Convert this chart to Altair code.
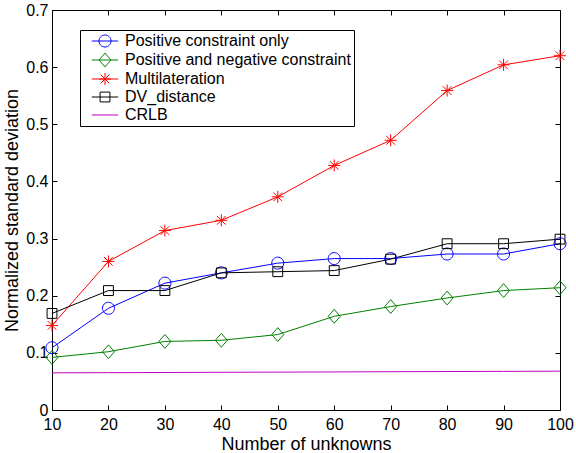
import altair as alt
import pandas as pd

x_vals = [10, 20, 30, 40, 50, 60, 70, 80, 90, 100]
series_names = ["Positive constraint only", "Positive and negative constraint",
                "Multilateration", "DV_distance", "CRLB"]
pos_only = [0.109, 0.178, 0.222, 0.240, 0.257, 0.265, 0.265, 0.273, 0.273, 0.291]
pos_neg = [0.092, 0.102, 0.120, 0.122, 0.132, 0.164, 0.181, 0.196, 0.209, 0.214]
multilat = [0.148, 0.260, 0.314, 0.332, 0.373, 0.428, 0.472, 0.559, 0.604, 0.620]
dv_distance = [0.169, 0.209, 0.209, 0.240, 0.242, 0.244, 0.264, 0.291, 0.291, 0.299]
crlb = [0.065, 0.0653, 0.0656, 0.066, 0.0663, 0.0666, 0.067, 0.0673, 0.0676, 0.068]

colors = ["#0000ff", "#008000", "#ff0000", "#000000", "#bf00bf"]

rows = []
for name, vals in zip(series_names, [pos_only, pos_neg, multilat, dv_distance, crlb]):
    for xv, yv in zip(x_vals, vals):
        rows.append({"series": name, "x": xv, "y": yv})
df = pd.DataFrame(rows)

circle = "M1,0A1,1,0,1,1,-1,0A1,1,0,1,1,1,0Z"
diamond = "M0,-1.15L1,0L0,1.15L-1,0Z"
star = "M-1,0L1,0M0,-1L0,1M-0.72,-0.72L0.72,0.72M-0.72,0.72L0.72,-0.72"
square = "M-0.82,-0.82L0.82,-0.82L0.82,0.82L-0.82,0.82Z"
seg = "M-2.2,0L2.2,0"

marker_shapes = [circle, diamond, star, square, seg]
legend_shapes = [circle + seg, diamond + seg, star + seg, square + seg, seg]

FONT = "Liberation Sans"

xenc = alt.X("x:Q", scale=alt.Scale(domain=[10, 100], nice=False),
             axis=alt.Axis(values=x_vals, title="Number of unknowns", grid=True,
                           gridDash=[5, 390, 5, 1000], gridColor="black", gridOpacity=1,
                           gridWidth=1, ticks=False, domain=False, labelPadding=6,
                           labelFlush=False, labelOverlap=False,
                           titlePadding=3, labelFont=FONT, titleFont=FONT,
                           labelFontSize=16, titleFontSize=18, labelColor="black",
                           titleColor="black", titleFontWeight="normal"))
yenc = alt.Y("y:Q", scale=alt.Scale(domain=[0, 0.7], nice=False),
             axis=alt.Axis(values=[0, 0.1, 0.2, 0.3, 0.4, 0.5, 0.6, 0.7], format=".1~f",
                           title="Normalized standard deviation", grid=True,
                           gridDash=[5, 498, 5, 1000], gridColor="black", gridOpacity=1,
                           gridWidth=1, ticks=False, domain=False, labelPadding=4,
                           labelFlush=False, labelOverlap=False,
                           titlePadding=4, labelFont=FONT, titleFont=FONT,
                           labelFontSize=16, titleFontSize=18, labelColor="black",
                           titleColor="black", titleFontWeight="normal"))

base = alt.Chart(df)

lines = base.mark_line(strokeWidth=1).encode(
    x=xenc, y=yenc,
    color=alt.Color("series:N", scale=alt.Scale(domain=series_names, range=colors), legend=None),
)

points = base.transform_filter(alt.datum.series != "CRLB").mark_point(
    filled=False, size=144, strokeWidth=1, opacity=1
).encode(
    x=xenc, y=yenc,
    color=alt.Color("series:N", scale=alt.Scale(domain=series_names, range=colors), legend=None),
    shape=alt.Shape("series:N", scale=alt.Scale(domain=series_names, range=marker_shapes), legend=None),
)

leg = alt.Legend(title=None, orient="none", legendX=28, legendY=20,
                 strokeColor="black", fillColor="white", padding=3,
                 symbolOffset=14, labelOffset=12, labelFontSize=16,
                 labelFont=FONT, labelColor="black",
                 rowPadding=2, symbolStrokeWidth=1, symbolSize=144,
                 symbolOpacity=1, labelLimit=400)

legend_layer = base.transform_filter(alt.datum.x < 0).mark_point(
    filled=False, size=144, strokeWidth=1
).encode(
    x=xenc, y=yenc,
    color=alt.Color("series:N", scale=alt.Scale(domain=series_names, range=colors), legend=leg),
    shape=alt.Shape("series:N", scale=alt.Scale(domain=series_names, range=legend_shapes), legend=leg),
)

chart = alt.layer(lines, points, legend_layer).resolve_scale(
    shape="independent", color="independent"
).properties(
    width=508, height=400,
    background="white",
    autosize=alt.AutoSizeParams(type="none"),
    padding={"left": 52, "top": 10, "right": 16, "bottom": 43},
).configure_view(
    stroke="black", strokeWidth=1
)

chart.save("out.html", embed_options={"renderer": "svg", "actions": False})
